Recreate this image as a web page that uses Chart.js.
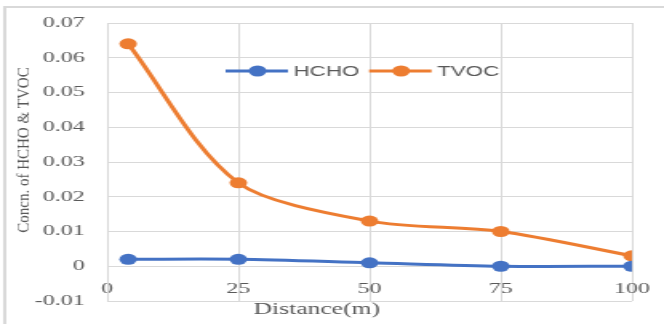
<!DOCTYPE html>
<html>
<head>
<meta charset="utf-8">
<script src="https://cdn.jsdelivr.net/npm/chart.js@4.4.1/dist/chart.umd.min.js"></script>
<style>
  html, body { margin: 0; padding: 0; background: #fff; }
  #chart { display: block; }
</style>
</head>
<body>
<!-- the reference is stretched sideways, so draw narrow and widen with the inline size -->
<canvas id="chart" width="415" height="324" style="width:664px;height:324px"></canvas>
<script>
// Data
const distances = [4, 25, 50, 75, 100];
const hcho = [0.002, 0.002, 0.001, 0, 0];
const tvoc = [0.064, 0.024, 0.013, 0.010, 0.003];
const seriesNames = ['HCHO', 'TVOC'];
const xTicks = [0, 25, 50, 75, 100];
const yTicks = [-0.01, 0, 0.01, 0.02, 0.03, 0.04, 0.05, 0.06, 0.07];

const BLUE = '#4472C4';
const ORANGE = '#ED7D31';
const GRID = '#d9d9d9';
const TEXT = '#595959';
const SERIF = '"Liberation Serif", "Times New Roman", serif';
const SANS = '"Liberation Sans", Arial, sans-serif';

function toPoints(xs, ys) {
    return xs.map((x, i) => ({ x: x, y: ys[i] }));
}

// Background and outer frame (top + left edges only)
const framePlugin = {
    id: 'frame',
    beforeDraw(chart) {
        const ctx = chart.ctx;
        ctx.save();
        ctx.fillStyle = '#fff';
        ctx.fillRect(0, 0, chart.width, chart.height);
        ctx.strokeStyle = GRID;
        ctx.lineWidth = 2;
        ctx.beginPath();
        ctx.moveTo(3, chart.height);
        ctx.lineTo(3, 7);
        ctx.lineTo(chart.width, 7);
        ctx.stroke();
        ctx.restore();
    }
};

// Excel-like legend inside the plot, plus the axis titles
const extrasPlugin = {
    id: 'extras',
    afterDraw(chart) {
        const ctx = chart.ctx;
        const area = chart.chartArea;
        ctx.save();

        // legend
        let x = area.left + 74;
        const y = area.top + 48;
        ctx.font = '14px ' + SANS;
        ctx.textBaseline = 'middle';
        ctx.textAlign = 'left';
        chart.data.datasets.forEach(ds => {
            ctx.strokeStyle = ds.borderColor;
            ctx.lineWidth = 3;
            ctx.beginPath();
            ctx.moveTo(x, y);
            ctx.lineTo(x + 39, y);
            ctx.stroke();
            ctx.fillStyle = ds.backgroundColor;
            ctx.beginPath();
            ctx.arc(x + 20, y, ds.pointRadius, 0, Math.PI * 2);
            ctx.fill();
            ctx.fillStyle = TEXT;
            ctx.fillText(ds.label, x + 42.5, y + 1);
            x += 42.5 + ctx.measureText(ds.label).width + 6;
        });

        // x title (sits left of centre in the reference)
        ctx.font = '16px ' + SERIF;
        ctx.textAlign = 'center';
        ctx.fillText('Distance(m)', 198, 310);

        // y title, squeezed sideways so it looks normal after the CSS stretch
        ctx.translate(15.5, area.top + 127);
        ctx.rotate(-Math.PI / 2);
        ctx.scale(1, 1 / 1.35);
        ctx.font = '15px ' + SERIF;
        ctx.fillText('Concn. of HCHO & TVOC', 0, 0);
        ctx.restore();
    }
};

const ctx = document.getElementById('chart');
new Chart(ctx, {
    type: 'line',
    data: {
        datasets: [
            {
                label: seriesNames[0],
                data: toPoints(distances, hcho),
                borderColor: BLUE,
                backgroundColor: BLUE,
                borderWidth: 3,
                pointRadius: 5.5,
                pointHoverRadius: 5.5,
                pointBorderWidth: 0,
                tension: 0.3
            },
            {
                label: seriesNames[1],
                data: toPoints(distances, tvoc),
                borderColor: ORANGE,
                backgroundColor: ORANGE,
                borderWidth: 3,
                pointRadius: 5.5,
                pointHoverRadius: 5.5,
                pointBorderWidth: 0,
                tension: 0.3
            }
        ]
    },
    options: {
        responsive: false,
        animation: false,
        devicePixelRatio: 1,
        layout: { padding: { top: 22, right: 20, bottom: 19, left: 0 } },
        plugins: {
            legend: { display: false },
            tooltip: { enabled: false }
        },
        scales: {
            x: {
                type: 'linear',
                min: xTicks[0],
                max: xTicks[xTicks.length - 1],
                position: { y: 0 },
                afterBuildTicks: s => { s.ticks = xTicks.map(v => ({ value: v })); },
                afterFit: s => { s.paddingLeft = 0; s.paddingRight = 0; },
                ticks: {
                    color: TEXT,
                    font: { family: SERIF, size: 15 },
                    padding: 14,
                    maxRotation: 0
                },
                grid: { color: GRID, lineWidth: 1, drawTicks: false },
                border: { color: GRID, width: 1 }
            },
            y: {
                min: yTicks[0],
                max: yTicks[yTicks.length - 1],
                afterBuildTicks: s => { s.ticks = yTicks.map(v => ({ value: v })); },
                afterFit: s => { s.width = 67; },
                ticks: {
                    color: TEXT,
                    font: { family: SERIF, size: 15 },
                    padding: 14,
                    callback: v => (Math.abs(v) < 1e-9 ? '0' : v.toFixed(2))
                },
                grid: { color: GRID, lineWidth: 1, drawTicks: false },
                border: { color: GRID, width: 1 }
            }
        }
    },
    plugins: [framePlugin, extrasPlugin]
});
</script>
</body>
</html>
